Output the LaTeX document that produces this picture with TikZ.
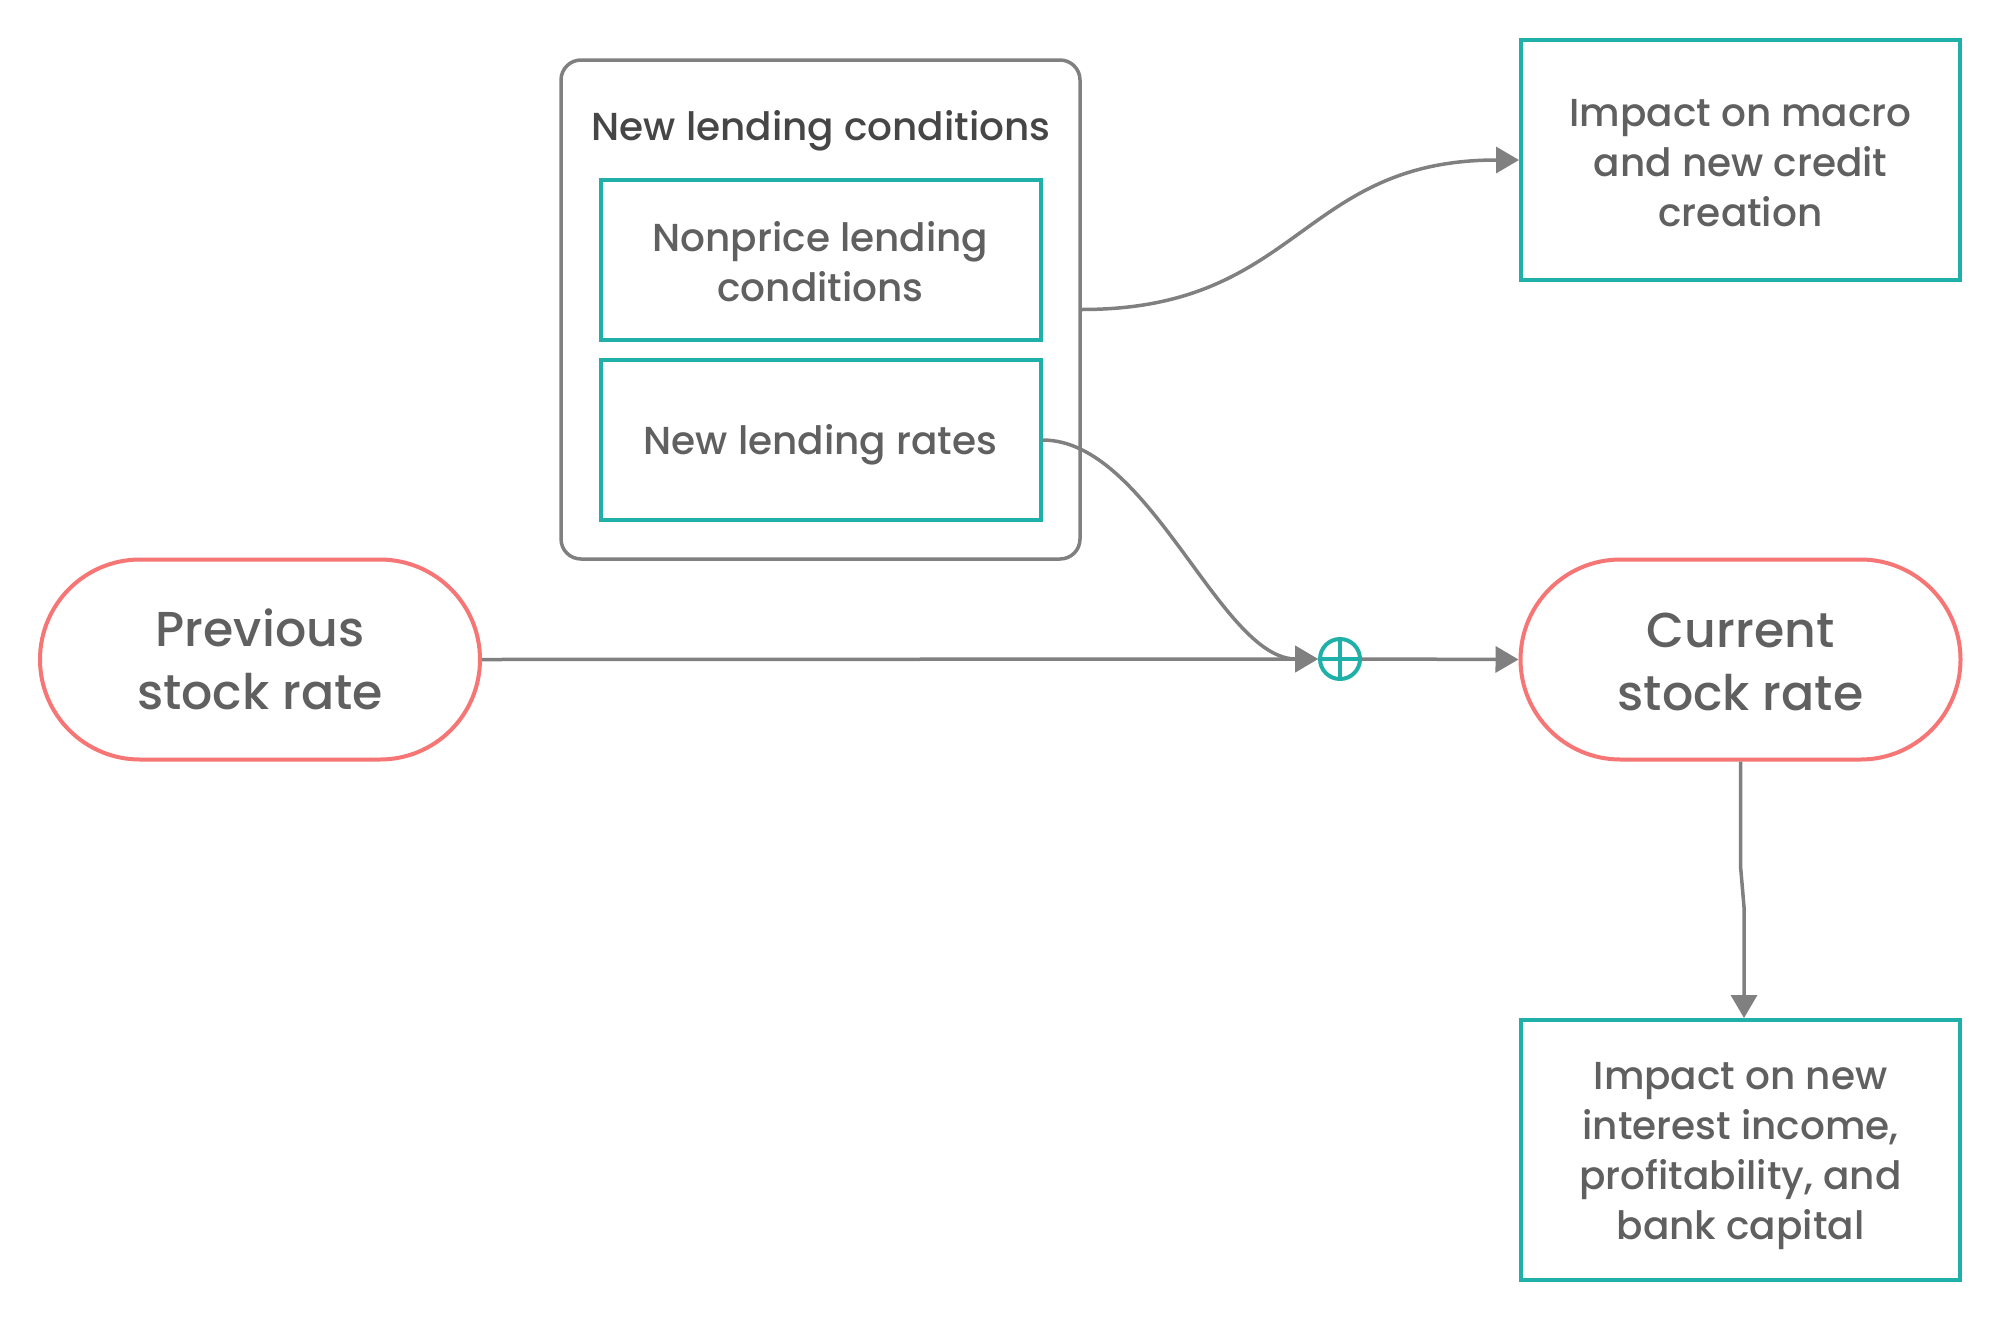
\documentclass[tikz,border=0pt]{standalone}
\usepackage{fontspec}
\setmainfont{Poppins}[UprightFont=* Medium]
\usetikzlibrary{arrows.meta,calc}
\definecolor{tealc}{RGB}{32,176,170}
\definecolor{salmonc}{RGB}{246,117,117}
\definecolor{linec}{RGB}{128,128,128}
\definecolor{textc}{RGB}{96,96,96}
\definecolor{titlec}{RGB}{70,70,70}
\tikzset{
  grpbox/.style={draw=linec, line width=3.5pt, rounded corners=20pt, rectangle, inner sep=0pt},
  titletext/.style={text=titlec, font=\fontsize{39}{50}\selectfont, inner sep=0pt},
  tealbox/.style={draw=tealc, line width=4pt, rectangle, inner sep=0pt, minimum width=440pt},
  boxtext/.style={inner sep=0pt, text=textc, align=center, font=\fontsize{39}{50}\selectfont},
  stadium/.style={draw=salmonc, line width=4pt, rectangle, rounded corners=100pt, inner sep=0pt,
    minimum width=440pt, minimum height=200pt},
  bigtext/.style={inner sep=0pt, text=textc, align=center, font=\fontsize{49}{63}\selectfont},
  sumnode/.style={draw=tealc, line width=4pt, circle, minimum size=40pt, inner sep=0pt},
  conn/.style={draw=linec, line width=3.5pt, -{Triangle[length=23pt,width=26pt]}}
}
\begin{document}
\begin{tikzpicture}[x=1pt,y=-1pt]
\useasboundingbox (0,0) rectangle (2001,1320);
\fill[white] (0,0) rectangle (2001,1320);

\node[grpbox, minimum width=519pt, minimum height=499pt] (grp) at (820.5,309.5) {};
\node[titletext] (ttl) at (821,131) {New lending conditions};
\node[tealbox, minimum height=160pt] (np) at (820.5,260) {};
\node[boxtext] (npt) at ([yshift=-1.5pt]np.center) {Nonprice lending\\conditions};
\node[tealbox, minimum height=160pt] (nlr) at (820.5,440) {};
\node[boxtext] (nlrt) at ([yshift=-5pt]nlr.center) {New lending rates};
\node[tealbox, minimum width=439pt, minimum height=240pt] (macro) at (1740.5,160) {};
\node[boxtext] (macrot) at ([yshift=-3pt]macro.center) {Impact on macro\\and new credit\\creation};
\node[stadium] (prev) at (260,659.5) {};
\node[bigtext] (prevt) at (prev.center) {Previous\\stock rate};
\node[stadium] (cur) at (1740.5,659.5) {};
\node[bigtext] (curt) at ([yshift=-2pt]cur.center) {Current\\stock rate};
\node[tealbox, minimum width=439pt, minimum height=260pt] (bot) at (1740.5,1150) {};
\node[boxtext] (bott) at ([yshift=-6pt]bot.center) {Impact on new\\interest income,\\profitability, and\\bank capital};
\node[sumnode] (sum) at (1340,659) {};
\draw[tealc, line width=4pt] (sum.north) -- (sum.south);
\draw[tealc, line width=4pt] (sum.west) -- (sum.east);

\draw[conn] (grp.east) .. controls (1300,309.5) and (1300,160) .. (macro.west);
\draw[conn] (nlr.east) .. controls (1150,440) and (1220,659) .. (sum.west);
\draw[conn] (prev.east) -- (sum.west);
\draw[conn] (sum.east) -- (cur.west);
\draw[conn] (cur.south) -- (1740.5,866) -- (1744,907) -- ([xshift=3.5pt]bot.north);
\end{tikzpicture}
\end{document}
